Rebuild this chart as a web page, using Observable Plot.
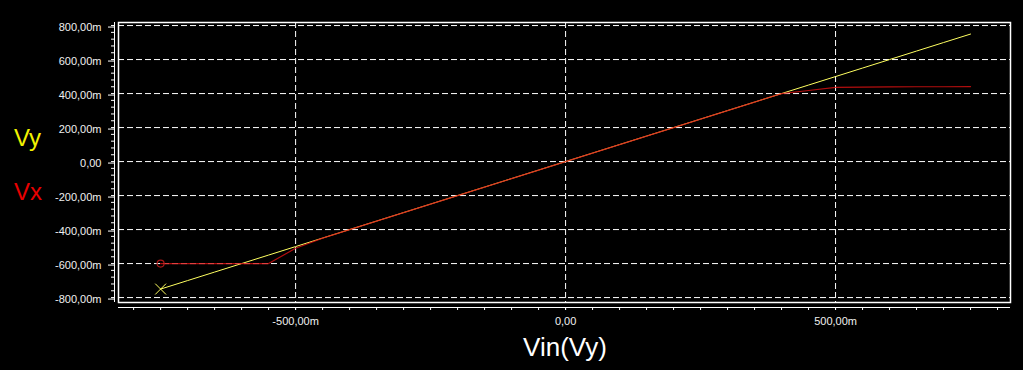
<!DOCTYPE html>
<html><head><meta charset="utf-8">
<script src="https://cdn.jsdelivr.net/npm/d3@7"></script>
<script src="https://cdn.jsdelivr.net/npm/@observablehq/plot@0.6"></script>
<style>
html,body{margin:0;padding:0;background:#000;}
#wrap{position:relative;width:1023px;height:370px;overflow:hidden;font-family:"Liberation Sans",Arial,sans-serif;}
.lab{position:absolute;white-space:nowrap;line-height:1;}
</style></head><body>
<div id="wrap"></div>
<script>
// ---- data (volts) ----
const vin = [-0.75,-0.70,-0.65,-0.60,-0.55,-0.50,-0.45,-0.40,-0.35,-0.30,-0.25,-0.20,-0.15,-0.10,-0.05,0,
             0.05,0.10,0.15,0.20,0.25,0.30,0.35,0.40,0.45,0.50,0.55,0.60,0.65,0.70,0.75];
const vy  = [-0.75,-0.70,-0.65,-0.60,-0.55,-0.50,-0.45,-0.40,-0.35,-0.30,-0.25,-0.20,-0.15,-0.10,-0.05,0,
             0.05,0.10,0.15,0.20,0.25,0.30,0.35,0.40,0.45,0.50,0.55,0.60,0.65,0.70,0.75];
const vx  = [-0.60,-0.60,-0.60,-0.60,-0.60,-0.51,-0.45,-0.40,-0.35,-0.30,-0.25,-0.20,-0.15,-0.10,-0.05,0,
             0.05,0.10,0.15,0.20,0.25,0.30,0.35,0.40,0.418,0.436,0.438,0.439,0.440,0.440,0.441];
const seriesNames = ["Vy", "Vx"];
const xTitle = "Vin(Vy)";
const xMajorTicks = [-0.5, 0, 0.5];
const xMinorTicks = [-0.8,-0.75,-0.7,-0.65,-0.6,-0.55,-0.5,-0.45,-0.4,-0.35,-0.3,-0.25,-0.2,-0.15,-0.1,-0.05,0,
                     0.05,0.1,0.15,0.2,0.25,0.3,0.35,0.4,0.45,0.5,0.55,0.6,0.65,0.7,0.75,0.8];
const yMajorTicks = [-0.8,-0.6,-0.4,-0.2,0,0.2,0.4,0.6,0.8];
const yMinorTicks = [-0.8,-0.76,-0.72,-0.68,-0.64,-0.6,-0.56,-0.52,-0.48,-0.44,-0.4,-0.36,-0.32,-0.28,-0.24,-0.2,-0.16,-0.12,-0.08,-0.04,0,
                     0.04,0.08,0.12,0.16,0.2,0.24,0.28,0.32,0.36,0.4,0.44,0.48,0.52,0.56,0.6,0.64,0.68,0.72,0.76,0.8];
const xDomain = [-0.828, 0.824];
const yDomain = [-0.829, 0.818];

const fmt = v => Math.abs(v) < 1e-9 ? "0,00" : (v * 1000).toFixed(2).replace(".", ",") + "m";
const rows = vin.map((x, i) => ({x, vy: vy[i], vx: vx[i]}));

const plot = Plot.plot({
  width: 1023, height: 370,
  marginLeft: 118, marginRight: 13, marginTop: 22, marginBottom: 68,
  style: {background: "#000", color: "#f0f0f0", fontFamily: "'Liberation Sans', Arial, sans-serif", fontSize: "11px", overflow: "visible"},
  x: {domain: xDomain, axis: null, label: null},
  y: {domain: yDomain, axis: null, label: null},
  marks: [
    Plot.ruleX(xMajorTicks, {stroke: "#fff", strokeDasharray: "6,3"}),
    Plot.ruleY(yMajorTicks, {stroke: "#fff", strokeDasharray: "6,3"}),
    Plot.frame({stroke: "#fff", strokeWidth: 1.5}),
    Plot.ruleX([xDomain[0]], {dx: -4, stroke: "#fff"}),
    Plot.axisY(yMinorTicks, {anchor: "left", dx: -4, tickSize: 3, fill: "none", stroke: "#fff", label: null}),
    Plot.axisY(yMajorTicks, {anchor: "left", dx: -4, dy: 1.5, tickSize: 6, tickPadding: 7, tickFormat: fmt, stroke: "#fff", fill: "#f0f0f0", label: null}),
    Plot.ruleY([yDomain[0]], {dy: 5, stroke: "#fff"}),
    Plot.axisX(xMinorTicks, {anchor: "bottom", dy: 5, tickSize: 3, fill: "none", stroke: "#fff", label: null}),
    Plot.axisX(xMajorTicks, {anchor: "bottom", dy: 5, tickSize: 3, tickPadding: 7, tickFormat: fmt, stroke: "#fff", fill: "#f0f0f0", label: null}),
    Plot.line(rows, {x: "x", y: "vy", stroke: "#ffff60", strokeWidth: 1}),
    Plot.line(rows, {x: "x", y: "vx", stroke: "#e01212", strokeWidth: 1.2, strokeOpacity: 0.8}),
    Plot.dot(rows.slice(0, 1), {x: "x", y: "vy", symbol: "times", r: 5, stroke: "#ffff60", strokeWidth: 1}),
    Plot.dot(rows.slice(0, 1), {x: "x", y: "vx", symbol: "circle", r: 3.5, stroke: "#a81818", strokeWidth: 1.2})
  ]
});
const wrap = document.getElementById("wrap");
wrap.appendChild(plot);

function addLabel(text, css) {
  const d = document.createElement("div");
  d.className = "lab";
  d.textContent = text;
  Object.assign(d.style, css);
  wrap.appendChild(d);
}
addLabel(seriesNames[0], {left: "14px", top: "126px", fontSize: "24px", color: "#f2f200"});
addLabel(seriesNames[1], {left: "14px", top: "180px", fontSize: "24px", color: "#e80000"});
addLabel(xTitle, {left: "565px", top: "334px", fontSize: "26px", color: "#fff", transform: "translateX(-50%)"});
</script>
</body></html>
